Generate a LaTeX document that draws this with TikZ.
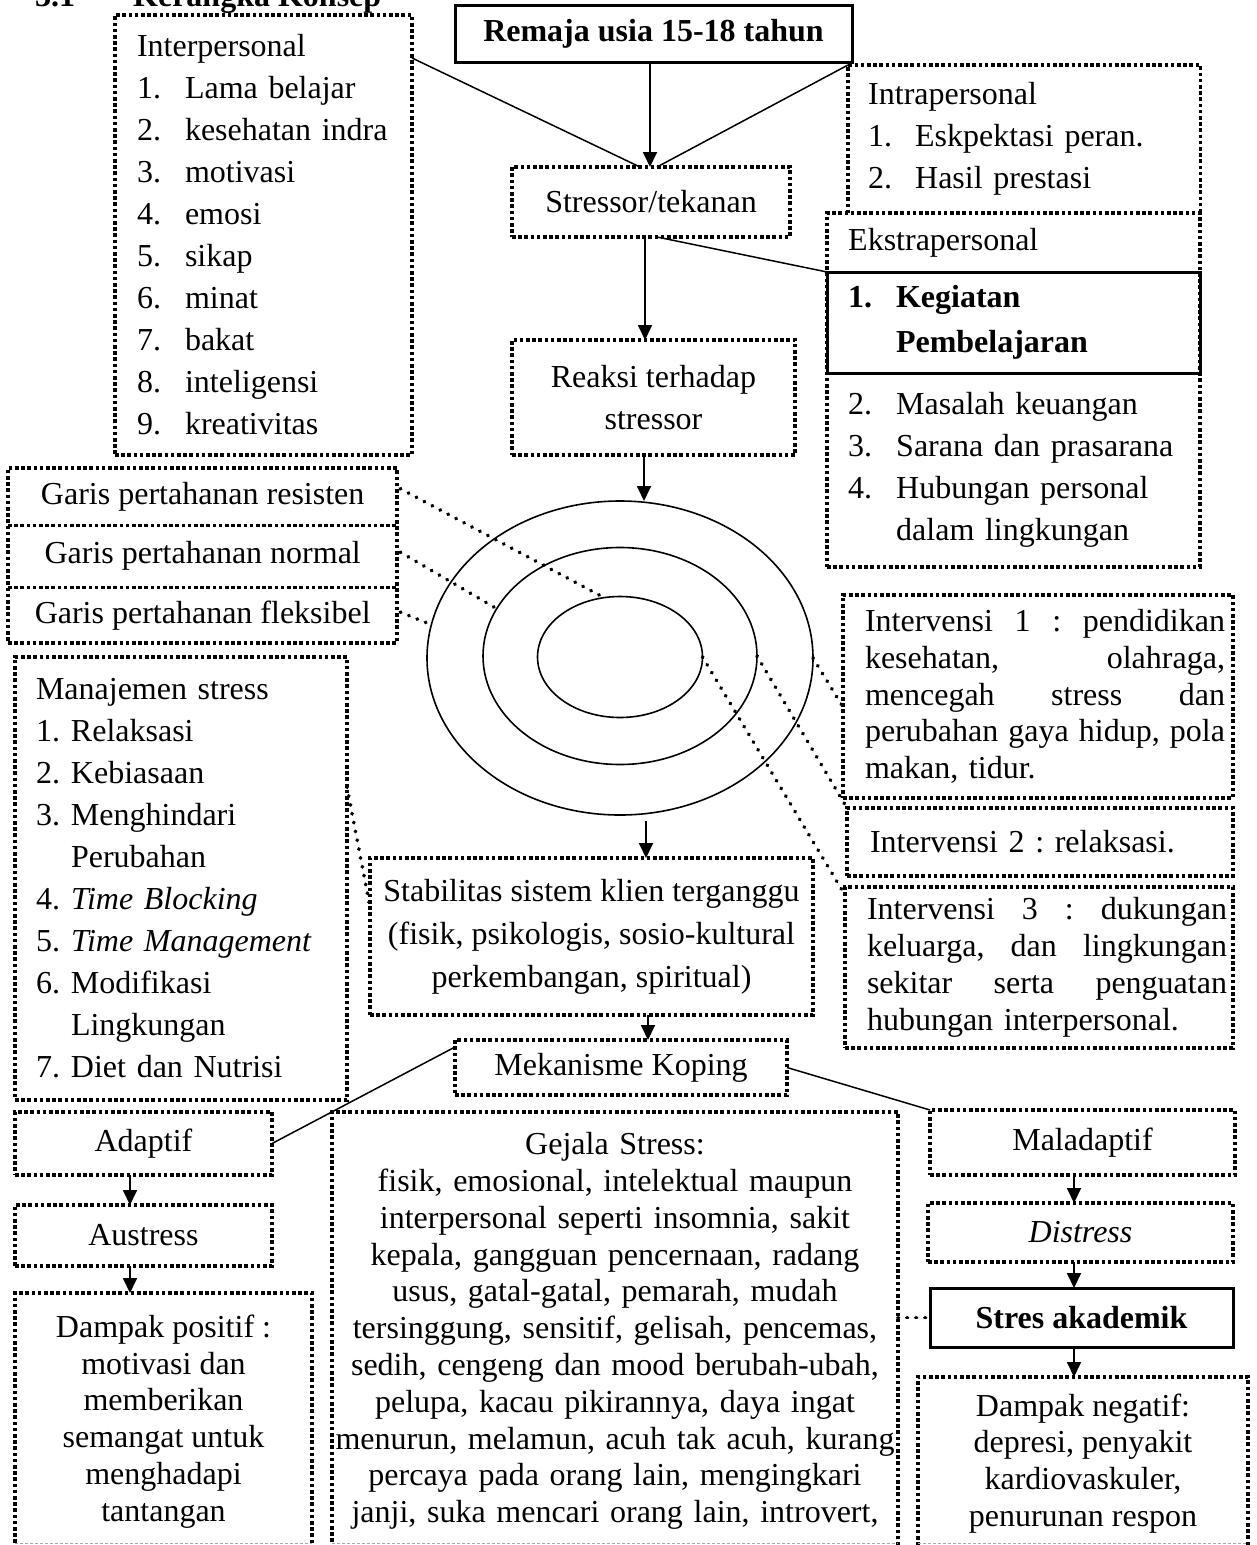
\documentclass[tikz,border=0pt]{standalone}
\usepackage{fontspec}
\setmainfont{Liberation Serif}
\usetikzlibrary{arrows.meta,calc,shapes.geometric}
\frenchspacing
\newcommand{\fslist}{\fontsize{32}{42}\selectfont}
\newcommand{\fspar}{\fontsize{32}{36.8}\selectfont}
\newcommand{\nitem}[3]{\makebox[#1][l]{#2}#3}
\newcommand{\jbox}[1]{\hbox to 360pt{#1}}
\begin{document}
\begin{tikzpicture}[x=1pt,y=-1pt,
  dbox/.style={draw, rectangle, line width=3.6pt, dash pattern=on 3.6pt off 2.6pt, inner sep=0pt, outer sep=0pt},
  dline/.style={line width=3.6pt, dash pattern=on 3.6pt off 2.6pt},
  sbox/.style={draw, rectangle, line width=3pt, inner sep=0pt, outer sep=0pt},
  arr/.style={line width=1.8pt, -{Triangle[length=15pt,width=14pt]}},
  conn/.style={line width=1.5pt},
  dotc/.style={line width=3.8pt, line cap=round, dash pattern=on 0.4pt off 8.6pt},
  ring/.style={draw, ellipse, line width=1.6pt, inner sep=0pt, outer sep=0pt},
  cut/.style={draw=black!35, line width=0.8pt, dash pattern=on 3pt off 2pt}]

\fill[white] (0,0) rectangle (1257,1545);
\useasboundingbox (0,0) rectangle (1257,1545);

% coordinates used for arrow columns
\coordinate (ax1) at (650,0);
\coordinate (ax2) at (645,0);
\coordinate (ax3) at (644,0);
\coordinate (ax4) at (646,0);
\coordinate (ax5) at (648,0);
\coordinate (ax6) at (130,0);
\coordinate (ax7) at (1074,0);
\coordinate (cutl) at (0,1543);

% title (cut off at top, as in the reference)
\node[anchor=base west, font=\fslist\bfseries, inner sep=0pt] (title) at (35,6) {3.1\hspace{58pt}Kerangka Konsep};

% top row
\node[sbox, minimum width=397pt, minimum height=57pt, font=\fslist\bfseries] (remaja) at (653.5,33.5) {Remaja usia 15-18 tahun};

\node[dbox, anchor=north west, minimum width=297pt, minimum height=440pt, inner xsep=22pt, text width=253pt, align=left, font=\fslist] (inter) at (115,15)
 {Interpersonal\\
  \nitem{48pt}{1.}{Lama belajar}\\
  \nitem{48pt}{2.}{kesehatan indra}\\
  \nitem{48pt}{3.}{motivasi}\\
  \nitem{48pt}{4.}{emosi}\\
  \nitem{48pt}{5.}{sikap}\\
  \nitem{48pt}{6.}{minat}\\
  \nitem{48pt}{7.}{bakat}\\
  \nitem{48pt}{8.}{inteligensi}\\
  \nitem{48pt}{9.}{kreativitas}};

% Intrapersonal: its bottom edge is the top edge of Ekstrapersonal
\node[anchor=north west, inner sep=0pt, minimum width=352pt, minimum height=148pt, inner xsep=20pt, text width=312pt, align=left, font=\fslist] (intra) at (848,65)
 {Intrapersonal\\
  \nitem{47pt}{1.}{Eskpektasi peran.}\\
  \nitem{47pt}{2.}{Hasil prestasi}};
\draw[dline] (intra.south west) -- (intra.north west) -- (intra.north east) -- (intra.south east);

\node[dbox, minimum width=278pt, minimum height=70pt, font=\fslist] (stressor) at (651,202) {Stressor/tekanan};

\node[dbox, anchor=north west, minimum width=373pt, minimum height=354pt] (ekstra) at (827,213) {};
\node[anchor=west, font=\fslist, inner sep=0pt] (ekslabel) at (848,243) {Ekstrapersonal};
\node[sbox, anchor=north west, minimum width=373pt, minimum height=101pt, inner xsep=21pt, text width=331pt, align=left, font=\fontsize{32}{45}\selectfont\bfseries] (keg) at (827,272)
 {\nitem{48pt}{1.}{Kegiatan}\\ \hspace*{48pt}Pembelajaran};
\node[anchor=west, inner sep=0pt, text width=340pt, align=left, font=\fslist] (ekslist) at (848,470)
 {\nitem{48pt}{2.}{Masalah keuangan}\\
  \nitem{48pt}{3.}{Sarana dan prasarana}\\
  \nitem{48pt}{4.}{Hubungan personal}\\
  \hspace*{48pt}dalam lingkungan};

\node[dbox, minimum width=283pt, minimum height=115pt, align=center, font=\fslist] (reaksi) at (653.5,397.5) {Reaksi terhadap\\stressor};

% lines of defence: one frame split in three
\node[dbox, anchor=north west, minimum width=389pt, minimum height=175pt] (garis) at (8,468) {};
\node[anchor=north west, inner sep=0pt, minimum width=389pt, minimum height=57pt, font=\fslist] (res) at (8,468) {Garis pertahanan resisten};
\node[anchor=north west, inner sep=0pt, minimum width=389pt, minimum height=62pt, font=\fslist] (nor) at (8,525) {Garis pertahanan normal};
\node[anchor=north west, inner sep=0pt, minimum width=389pt, minimum height=56pt, font=\fslist] (flx) at (8,587) {Garis pertahanan fleksibel};
\draw[dline] (res.south west) -- (res.south east);
\draw[dline] (nor.south west) -- (nor.south east);

\node[ring, minimum width=386pt, minimum height=314pt] (outer) at (620,658) {};
\node[ring, minimum width=274pt, minimum height=217pt] (middle) at (620,656) {};
\node[ring, minimum width=165pt, minimum height=121pt] (inner) at (620,657) {};

\node[dbox, anchor=north west, minimum width=332pt, minimum height=443pt, inner xsep=21pt, text width=290pt, align=left, font=\fslist] (man) at (15,657)
 {Manajemen stress\\
  \nitem{35pt}{1.}{Relaksasi}\\
  \nitem{35pt}{2.}{Kebiasaan}\\
  \nitem{35pt}{3.}{Menghindari}\\
  \hspace*{35pt}Perubahan\\
  \nitem{35pt}{4.}{\textit{Time Blocking}}\\
  \nitem{35pt}{5.}{\textit{Time Management}}\\
  \nitem{35pt}{6.}{Modifikasi}\\
  \hspace*{35pt}Lingkungan\\
  \nitem{35pt}{7.}{Diet dan Nutrisi}};

% interventions (justified lines)
\node[dbox, anchor=north west, minimum width=390pt, minimum height=203pt, inner xsep=0pt, text width=390pt, align=left, font=\fspar] (int1) at (843,595)
 {\hspace*{22pt}\jbox{Intervensi\hfill 1\hfill :\hfill pendidikan}\\
  \hspace*{22pt}\jbox{kesehatan,\hfill olahraga,}\\
  \hspace*{22pt}\jbox{mencegah\hfill stress\hfill dan}\\
  \hspace*{22pt}\jbox{perubahan\hfill gaya\hfill hidup,\hfill pola}\\
  \hspace*{22pt}makan, tidur.};
\node[dbox, anchor=north west, minimum width=386pt, minimum height=68pt, inner xsep=23pt, text width=340pt, align=left, font=\fspar] (int2) at (847,808) {Intervensi 2 : relaksasi.};
\node[dbox, anchor=north west, minimum width=388pt, minimum height=161pt, inner xsep=0pt, text width=388pt, align=left, font=\fspar] (int3) at (845,887)
 {\hspace*{22pt}\jbox{Intervensi\hfill 3\hfill :\hfill dukungan}\\
  \hspace*{22pt}\jbox{keluarga,\hfill dan\hfill lingkungan}\\
  \hspace*{22pt}\jbox{sekitar\hfill serta\hfill penguatan}\\
  \hspace*{22pt}hubungan interpersonal.};

\node[dbox, anchor=north west, minimum width=443pt, minimum height=157pt, align=center, font=\fontsize{32}{43}\selectfont] (stab) at (370,858)
 {Stabilitas sistem klien terganggu\\(fisik, psikologis, sosio-kultural\\perkembangan, spiritual)};

\node[dbox, anchor=north west, minimum width=332pt, minimum height=55pt, font=\fslist] (mek) at (455,1040) {Mekanisme Koping};

% bottom left
\node[dbox, anchor=north west, minimum width=257pt, minimum height=63pt, font=\fslist] (adaptif) at (15,1112) {Adaptif};
\node[dbox, anchor=north west, minimum width=257pt, minimum height=61pt, font=\fslist] (austress) at (15,1205) {Austress};
\node[dbox, anchor=north west, minimum width=297pt, minimum height=257pt, align=center, font=\fspar] (dpos) at (15,1293)
 {Dampak positif :\\motivasi dan\\memberikan\\semangat untuk\\menghadapi\\tantangan};

% bottom middle
\node[dbox, anchor=north west, minimum width=566pt, minimum height=438pt, inner xsep=3pt, text width=560pt, align=center, font=\fspar] (gej) at (332,1112)
 {Gejala Stress:\\
  fisik, emosional, intelektual maupun\\
  interpersonal seperti insomnia, sakit\\
  kepala, gangguan pencernaan, radang\\
  usus, gatal-gatal, pemarah, mudah\\
  tersinggung, sensitif, gelisah, pencemas,\\
  sedih, cengeng dan mood berubah-ubah,\\
  pelupa, kacau pikirannya, daya ingat\\
  menurun, melamun, acuh tak acuh, kurang\\
  percaya pada orang lain, mengingkari\\
  janji, suka mencari orang lain, introvert,};

% bottom right
\node[dbox, anchor=north west, minimum width=305pt, minimum height=65pt, font=\fslist] (mal) at (930,1110) {Maladaptif};
\node[dbox, anchor=north west, minimum width=305pt, minimum height=59pt, font=\fslist\itshape] (dis) at (928,1203) {Distress};
\node[sbox, anchor=north west, minimum width=303pt, minimum height=59pt, font=\fslist\bfseries] (stres) at (930,1288) {Stres akademik};
\node[dbox, anchor=north west, minimum width=330pt, minimum height=173pt, align=center, font=\fspar] (dneg) at (918,1377)
 {Dampak negatif:\\depresi, penyakit\\kardiovaskuler,\\penurunan respon};

% page cut marks at the bottom
\draw[cut] (dpos.west |- cutl) -- (dpos.east |- cutl);
\draw[cut] (gej.west |- cutl) -- (gej.east |- cutl);
\draw[cut] (dneg.west |- cutl) -- (dneg.east |- cutl);

% solid connectors
\draw[conn] ($(inter.north east)+(0,43)$) -- ($(stressor.north)+(-11,0)$);
\draw[conn] (intra.north west) -- ($(stressor.north)+(6,0)$);
\draw[conn] ($(stressor.south)+(6,0)$) -- (keg.north west);
\draw[conn] (adaptif.east) -- ($(mek.north west)+(0,7)$);
\draw[conn] (mek.east) -- (mal.north west);

% arrows
\draw[arr] (remaja.south -| ax1) -- (stressor.north -| ax1);
\draw[arr] (stressor.south -| ax2) -- (reaksi.north -| ax2);
\draw[arr] (reaksi.south -| ax3) -- (outer.north -| ax3);
\draw[arr] ($(outer.south -| ax4)+(0,6)$) -- (stab.north -| ax4);
\draw[arr] (stab.south -| ax5) -- (mek.north -| ax5);
\draw[arr] (adaptif.south -| ax6) -- (austress.north -| ax6);
\draw[arr] (austress.south -| ax6) -- (dpos.north -| ax6);
\draw[arr] (mal.south -| ax7) -- (dis.north -| ax7);
\draw[arr] (dis.south -| ax7) -- (stres.north -| ax7);
\draw[arr] (stres.south -| ax7) -- (dneg.north -| ax7);

% dotted connectors
\draw[dotc] ($(res.east)+(3,-8)$) -- (inner.105);
\draw[dotc] ($(nor.east)+(3,-4)$) -- (middle.159);
\draw[dotc] ($(flx.east)+(3,-3)$) -- (outer.170);
\draw[dotc] (outer.east) -- ($(int1.north west)+(0,112)$);
\draw[dotc] (middle.east) -- (int2.north west);
\draw[dotc] (inner.east) -- ($(int3.north west)+(0,8)$);
\draw[dotc] ($(man.north east)+(0,130)$) -- ($(stab.north west)+(0,49)$);
\draw[dotc] (gej.east |- stres.west) -- (stres.west);
\end{tikzpicture}
\end{document}
